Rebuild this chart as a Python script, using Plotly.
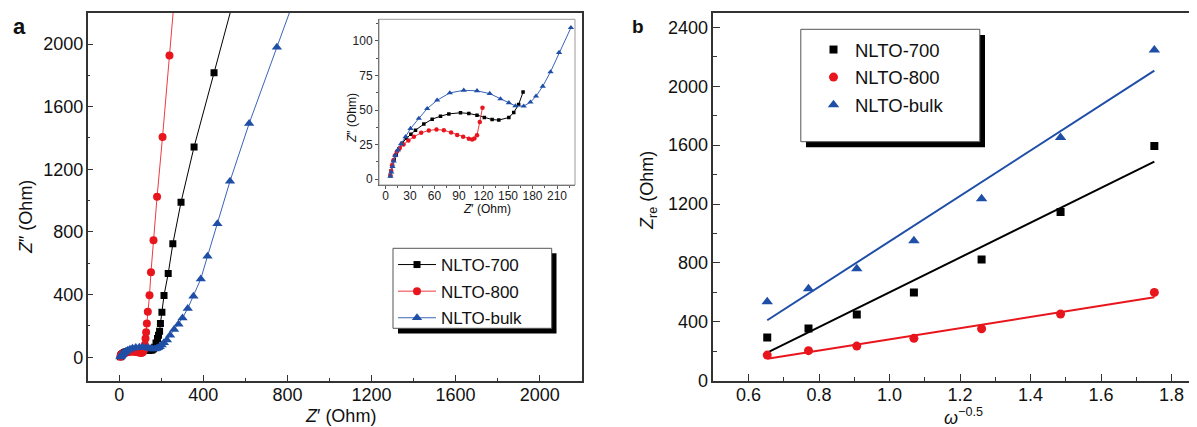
import numpy as np
import plotly.graph_objects as go

# ---------------- DATA ----------------
# Panel a: Nyquist plots (Z' , Z'' in Ohm)
z700_re = [6, 7, 8.5, 10.5, 13, 16.5, 20.5, 25.5, 31, 36.7, 46.9, 57.1, 67.3, 77.5, 91.8, 102, 112, 121,
           130.5, 138.7, 151, 157, 163, 168.4, 175, 182, 187, 192, 196, 203, 213, 233, 255, 294, 356, 451, 560]
z700_im = [2.5, 6, 10, 14, 18, 22, 26, 29.5, 32.5, 35.4, 39.8, 43.4, 45.5, 47.2, 48, 47.5, 46.3, 44.6,
           43.1, 42.7, 44.6, 48.2, 54, 63, 90, 120, 140, 166, 215, 287, 394, 534, 724, 990, 1343, 1816, 2360]

z800_re = [6, 7, 8, 9.5, 11.5, 14, 17.5, 22, 28, 34.7, 43.6, 53, 62.4, 71.4, 80.3, 87.7, 95, 102, 106,
           108.8, 112, 115.4, 118.7, 122, 125, 128, 131.5, 136, 144, 151, 163, 180, 206, 239, 285]
z800_im = [2.5, 6, 10, 13.5, 17, 20, 22.5, 25, 28, 30.6, 33.5, 35.2, 35.9, 35.4, 33.7, 32, 30.6, 29.2, 28.7,
           29.4, 31.8, 41.4, 51.6, 80, 120, 160, 215, 290, 396, 543, 747, 1024, 1407, 1927, 2650]

zbulk_re = [6, 7, 8.5, 10, 12, 15, 19, 24.5, 30.6, 40.8, 51, 63.2, 78.7, 95.8, 112, 127.6, 140.7, 151, 159,
            169.2, 177.4, 184.3, 192.5, 202, 212.5, 227, 242, 261, 282, 301, 326, 353, 388, 420, 467, 527,
            618, 750, 880]
zbulk_im = [2, 5, 9, 13, 17, 21, 25.5, 30.6, 36.6, 43.9, 51, 57.1, 62.4, 64.3, 63.9, 61.9, 58, 55.2, 53,
            52.8, 55.7, 60, 67.2, 77.6, 91.6, 109.6, 140, 177, 211, 251, 311, 390, 500, 645, 852, 1124,
            1492, 1980, 2460]

# number of high-frequency points shown in the inset for each sample
inset_len = [24, 23, 26]

# Panel b: Z_re vs omega^-0.5
omega = [0.653, 0.770, 0.907, 1.069, 1.261, 1.485, 1.751]
zre_700 = [294, 355, 450, 600, 824, 1146, 1594]
zre_800 = [174, 204, 235, 288, 353, 453, 600]
zre_bulk = [537, 625, 761, 951, 1236, 1653, 2246]

names = ["NLTO-700", "NLTO-800", "NLTO-bulk"]

# ---------------- STYLE ----------------
PAGE_W, PAGE_H = 1197, 427
OX, OY = 8, 8          # default body margin of the html page
W, H = PAGE_W - OX, PAGE_H - OY
FONT = "Liberation Sans, Arial, sans-serif"
BLACK, RED, BLUE = "#000000", "#e8151d", "#1f4ea6"
RED_L, BLUE_L = "#ee3a40", "#3a64b8"


def px(x):
    return (x - OX) / W


def py(y):
    return 1 - (y - OY) / H


fig = go.Figure()

series_a = [(z700_re, z700_im, BLACK, BLACK, "square", 7),
            (z800_re, z800_im, RED, RED_L, "circle", 8),
            (zbulk_re, zbulk_im, BLUE, BLUE_L, "triangle-up", 9)]

for (xs, ys, mc, lc, sym, ms), nm, n in zip(series_a, names, inset_len):
    fig.add_trace(go.Scatter(x=xs, y=ys, mode="lines+markers", name=nm,
                             line=dict(color=lc, width=1),
                             marker=dict(symbol=sym, size=ms, color=mc),
                             xaxis="x", yaxis="y", legend="legend", legendgroup=nm))
    # inset
    fig.add_trace(go.Scatter(x=xs[:n], y=ys[:n], mode="lines+markers", name=nm, showlegend=False,
                             line=dict(color=lc, width=1),
                             marker=dict(symbol=sym, size=ms - 3.5, color=mc),
                             xaxis="x3", yaxis="y3"))

series_b = [(zre_700, BLACK, "square", 8),
            (zre_800, RED, "circle", 9),
            (zre_bulk, BLUE, "triangle-up", 10)]
om = np.array(omega)
for (ys, c, sym, ms), nm in zip(series_b, names):
    fig.add_trace(go.Scatter(x=omega, y=ys, mode="markers", name=nm,
                             marker=dict(symbol=sym, size=ms, color=c),
                             xaxis="x2", yaxis="y2", legend="legend2", legendgroup=nm + "b"))
    k, b0 = np.polyfit(om, np.array(ys, dtype=float), 1)
    xf = np.array([om[0], om[-1]])
    fig.add_trace(go.Scatter(x=xf, y=k * xf + b0, mode="lines", showlegend=False,
                             line=dict(color=c, width=2), xaxis="x2", yaxis="y2"))

ydom = [py(380.7), py(12.7)]
axcommon = dict(showline=True, linecolor="#333", linewidth=1.5, ticks="inside",
                tickcolor="#333", tickwidth=1, showgrid=False, zeroline=False, automargin=False,
                tickfont=dict(family=FONT, size=18, color="#111"))

fig.update_layout(
    width=W, height=H, autosize=False,
    margin=dict(l=0, r=0, t=0, b=0, pad=0),
    paper_bgcolor="white", plot_bgcolor="white",
    font=dict(family=FONT, color="#111"),
    xaxis=dict(domain=[px(87.7), px(581.7)], range=[-150, 2200], anchor="y", mirror=True,
               tickvals=[0, 400, 800, 1200, 1600, 2000], ticklen=6,
               minor=dict(dtick=200, ticklen=3, tickcolor="#333", ticks="inside"),
               ticklabelstandoff=-3, **axcommon),
    yaxis=dict(domain=ydom, range=[-150, 2200], anchor="x", mirror=True,
               tickvals=[0, 400, 800, 1200, 1600, 2000], ticklen=6,
               minor=dict(dtick=200, ticklen=3, tickcolor="#333", ticks="inside"),
               ticklabelstandoff=-1, **axcommon),
    xaxis2=dict(domain=[px(713.3), 1.0], range=[0.5, 1.872], anchor="y2", mirror=True,
                dtick=0.2, tick0=0.6, tickformat=".1f", ticklen=7,
                minor=dict(dtick=0.1, ticklen=4, tickcolor="#333", ticks="inside"),
                ticklabelstandoff=-3, **axcommon),
    yaxis2=dict(domain=ydom, range=[0, 2500], anchor="x2", mirror=False,
                dtick=400, ticklen=7,
                minor=dict(dtick=200, ticklen=4, tickcolor="#333", ticks="inside"),
                ticklabelstandoff=0, **axcommon),
    xaxis3=dict(domain=[px(379), px(575)], range=[-8, 232], anchor="y3", automargin=False,
                showline=True, linecolor="#555", linewidth=1, mirror=False,
                ticks="outside", ticklen=3, tickcolor="#555", dtick=30, tick0=0,
                minor=dict(dtick=15, ticklen=2, tickcolor="#555", ticks="outside"),
                showgrid=False, zeroline=False, ticklabelstandoff=-3,
                tickfont=dict(family=FONT, size=12, color="#222")),
    yaxis3=dict(domain=[py(185), py(19.3)], range=[-4.3, 115.7], anchor="x3", automargin=False,
                showline=True, linecolor="#555", linewidth=1, mirror=False,
                ticks="outside", ticklen=3, tickcolor="#555", dtick=25, tick0=0,
                minor=dict(dtick=12.5, ticklen=2, tickcolor="#555", ticks="outside"),
                showgrid=False, zeroline=False,
                tickfont=dict(family=FONT, size=12, color="#222")),
    legend=dict(x=px(393), y=py(247), xanchor="left", yanchor="top",
                bgcolor="rgba(0,0,0,0)", borderwidth=0, tracegroupgap=1.5,
                font=dict(family=FONT, size=17, color="#111"), itemwidth=38),
    legend2=dict(x=px(812), y=py(31), xanchor="left", yanchor="top",
                 bgcolor="rgba(0,0,0,0)", borderwidth=0, tracegroupgap=0.5,
                 font=dict(family=FONT, size=18.5, color="#111"), itemwidth=33),
)

shapes = []
# inset frame (top & right)
shapes.append(dict(type="rect", xref="paper", yref="paper", x0=px(379), x1=px(575),
                   y0=py(185), y1=py(19.3), line=dict(color="#999", width=1),
                   fillcolor="rgba(0,0,0,0)", layer="above"))
# legend a: shadow + box
shapes.append(dict(type="rect", xref="paper", yref="paper", x0=px(398), x1=px(556.5),
                   y0=py(333.5), y1=py(253.3), line=dict(width=0), fillcolor="black", layer="above"))
shapes.append(dict(type="rect", xref="paper", yref="paper", x0=px(393), x1=px(551.7),
                   y0=py(328.3), y1=py(248.3), line=dict(color="#555", width=1),
                   fillcolor="white", layer="above"))
# legend b: shadow + box
shapes.append(dict(type="rect", xref="paper", yref="paper", x0=px(806), x1=px(985),
                   y0=py(147.3), y1=py(35), line=dict(width=0), fillcolor="black", layer="above"))
shapes.append(dict(type="rect", xref="paper", yref="paper", x0=px(800.8), x1=px(979.8),
                   y0=py(141.7), y1=py(29.3), line=dict(color="#555", width=1),
                   fillcolor="white", layer="above"))
fig.update_layout(shapes=shapes)

ann = []


def A(text, x, y, size, angle=0, xanchor="center", yanchor="middle", bold=False):
    t = f"<b>{text}</b>" if bold else text
    ann.append(dict(text=t, x=px(x), y=py(y), xref="paper", yref="paper", showarrow=False,
                    xanchor=xanchor, yanchor=yanchor, textangle=angle,
                    font=dict(family=FONT, size=size, color="#111")))


A("<i>Z</i>′ (Ohm)", 340, 416, 18)
A("<i>Z</i>″ (Ohm)", 26, 217, 18, angle=-90)
A("<i>ω</i><sup>−0.5</sup>", 963, 416, 18)
A("<i>Z</i><sub>re</sub> (Ohm)", 648, 191, 18, angle=-90)
A("<i>Z</i>′ (Ohm)", 487, 209, 12)
A("<i>Z</i>″ (Ohm)", 352, 118, 12, angle=-90)
A("a", 11, 27, 22, xanchor="left", bold=True)
A("b", 630, 26, 19, xanchor="left", bold=True)
fig.update_layout(annotations=ann)

fig.write_html("out.html")
